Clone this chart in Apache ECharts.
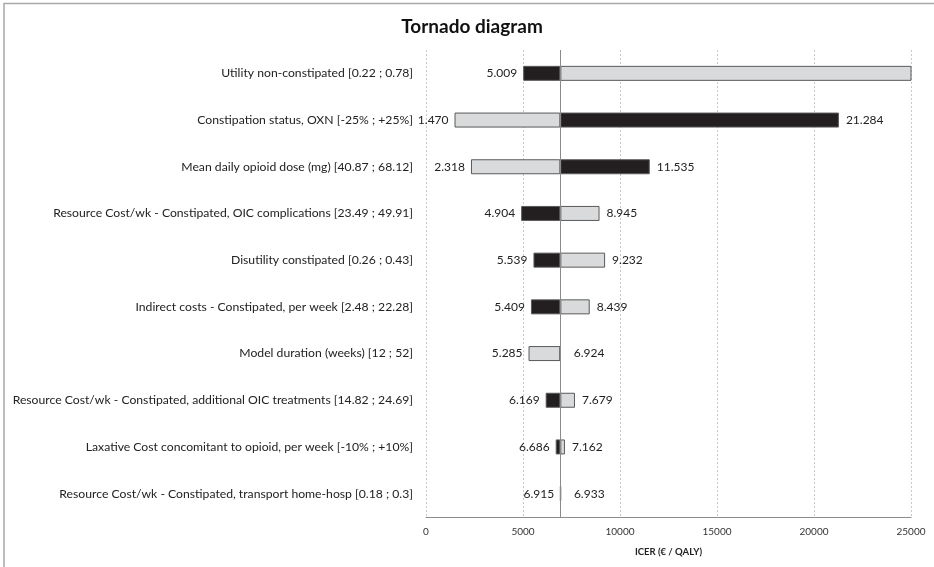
<!DOCTYPE html>
<html>
<head>
<meta charset="utf-8">
<title>Tornado diagram</title>
<script src="https://cdn.jsdelivr.net/npm/echarts@6/dist/echarts.min.js"></script>
<style>
  html, body { margin: 0; padding: 0; background: #ffffff; }
  #chart { width: 934px; height: 567px; }
</style>
</head>
<body>
<div id="chart"></div>
<script>
// One-way sensitivity analysis: ICER at the low (dark) and high (light) parameter bound
const parameters = [
  'Utility non-constipated [0.22 ; 0.78]',
  'Constipation status, OXN [-25% ; +25%]',
  'Mean daily opioid dose (mg) [40.87 ; 68.12]',
  'Resource Cost/wk - Constipated, OIC complications [23.49 ; 49.91]',
  'Disutility constipated [0.26 ; 0.43]',
  'Indirect costs - Constipated, per week [2.48 ; 22.28]',
  'Model duration (weeks) [12 ; 52]',
  'Resource Cost/wk - Constipated, additional OIC treatments [14.82 ; 24.69]',
  'Laxative Cost concomitant to opioid, per week [-10% ; +10%]',
  'Resource Cost/wk - Constipated, transport home-hosp [0.18 ; 0.3]'
];

// ICER with the parameter at its lower bound (dark bars)
const icerLowBound = [5009, 21284, 11535, 4904, 5539, 5409, 6924, 6169, 6686, 6915];
// ICER with the parameter at its upper bound (light bars); the first runs past the axis end
const icerHighBound = [30000, 1470, 2318, 8945, 9232, 8439, 5285, 7679, 7162, 6933];

// Base-case ICER where the bars meet
const baseCase = 6924;

const xTicks = { min: 0, max: 25000, interval: 5000 };

const DARK = '#231f20';
const LIGHT = '#d9dadb';
const EDGE = '#5a5a5a';
const FONT = 'Lato, "Open Sans", sans-serif';

// Format as 5.009 (dot as thousands separator)
function fmt(v) {
  return String(Math.round(v)).replace(/\B(?=(\d{3})+(?!\d))/g, '.');
}

const leftVal = [], rightVal = [], leftColor = [], rightColor = [];
for (let i = 0; i < parameters.length; i++) {
  const lo = icerLowBound[i], hi = icerHighBound[i];
  const lowIsLeft = lo <= hi;
  leftVal.push(Math.min(lo, hi));
  rightVal.push(Math.max(lo, hi));
  leftColor.push(lowIsLeft ? DARK : LIGHT);
  rightColor.push(lowIsLeft ? LIGHT : DARK);
}

// Bars shorter than ~1px get a little extra room for their value label
const tinySpan = 60;

const padData = leftVal.map(v => v);
const leftData = leftVal.map((v, i) => ({
  value: baseCase - v,
  itemStyle: { color: leftColor[i], borderColor: EDGE, borderWidth: 1 }
}));
const rightData = rightVal.map((v, i) => ({
  value: v - baseCase,
  itemStyle: { color: rightColor[i], borderColor: EDGE, borderWidth: 1 },
  label: { show: v <= xTicks.max, distance: (v - baseCase) < tinySpan ? 13 : 7 }
}));

const chart = echarts.init(document.getElementById('chart'), null, { renderer: 'canvas' });

chart.setOption({
  backgroundColor: '#ffffff',
  animation: false,
  textStyle: { fontFamily: FONT },
  title: {
    text: 'Tornado diagram',
    left: 467,
    top: 12,
    textAlign: 'center',
    textStyle: { fontFamily: FONT, fontSize: 19, fontWeight: 'bold', color: '#111' }
  },
  graphic: [
    {
      type: 'polyline',
      shape: { points: [[4, 567], [4, 3.5], [934, 3.5]] },
      style: { stroke: '#a8a8a8', lineWidth: 1.5, fill: null },
      silent: true
    }
  ],
  grid: { left: 426, right: 23, top: 50, bottom: 50, containLabel: false },
  xAxis: {
    type: 'value',
    min: xTicks.min,
    max: xTicks.max,
    interval: xTicks.interval,
    name: 'ICER (€ / QALY)',
    nameLocation: 'middle',
    nameGap: 30,
    nameTextStyle: { fontFamily: FONT, fontSize: 9.5, fontWeight: 'bold', color: '#222' },
    axisLine: { show: true, lineStyle: { color: '#8c8c8c', width: 1 } },
    axisTick: { show: false },
    axisLabel: { fontFamily: FONT, fontSize: 10, color: '#333', margin: 10, formatter: v => String(v) },
    splitLine: { show: true, lineStyle: { color: '#c8c8c8', type: [2, 2], width: 1 } }
  },
  yAxis: {
    type: 'category',
    data: parameters,
    inverse: true,
    axisLine: { show: false },
    axisTick: { show: false },
    splitLine: { show: false },
    axisLabel: { fontFamily: FONT, fontSize: 12.2, color: '#222', margin: 13 }
  },
  series: [
    {
      name: 'offset',
      type: 'bar',
      stack: 'icer',
      data: padData,
      barWidth: 15,
      clip: true,
      silent: true,
      itemStyle: { color: 'transparent', borderWidth: 0 },
      emphasis: { disabled: true }
    },
    {
      name: 'left',
      type: 'bar',
      stack: 'icer',
      data: leftData,
      barWidth: 15,
      barMinHeight: 1,
      clip: true,
      label: {
        show: true,
        position: 'left',
        distance: 6,
        fontFamily: FONT,
        fontSize: 12,
        color: '#222',
        formatter: p => fmt(leftVal[p.dataIndex])
      },
      markLine: {
        silent: true,
        symbol: 'none',
        label: { show: false },
        lineStyle: { color: '#8a8a8a', type: 'solid', width: 1 },
        data: [{ xAxis: baseCase }]
      }
    },
    {
      name: 'right',
      type: 'bar',
      stack: 'icer',
      data: rightData,
      barWidth: 15,
      clip: true,
      label: {
        show: true,
        position: 'right',
        fontFamily: FONT,
        fontSize: 12,
        color: '#222',
        formatter: p => fmt(rightVal[p.dataIndex])
      }
    }
  ]
});
</script>
</body>
</html>
